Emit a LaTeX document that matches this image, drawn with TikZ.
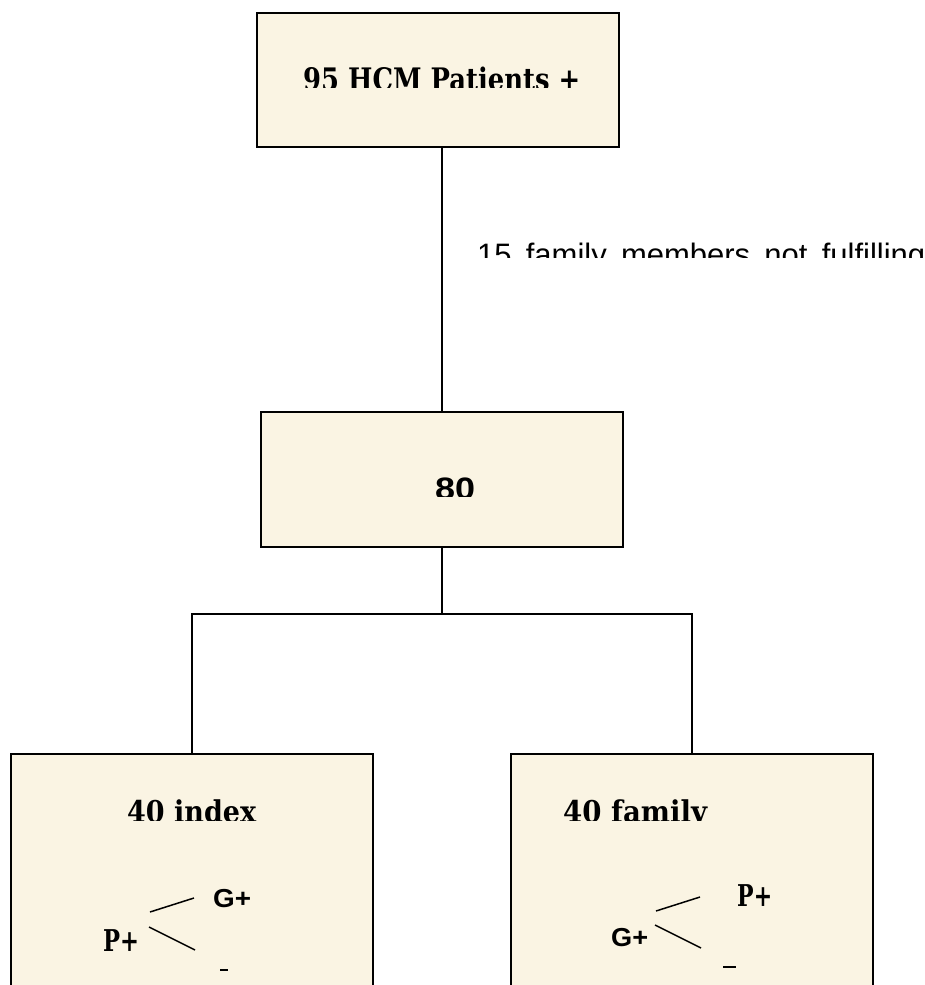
\documentclass[tikz,border=0pt]{standalone}
\usepackage{fontspec}
\newfontfamily\slabf{DejaVu Serif}
\newfontfamily\sansf{Liberation Sans}
\definecolor{cream}{RGB}{250,244,227}
\newcommand\fitt[2]{\resizebox{#1}{\height}{#2}}
\tikzset{
  box/.style={draw=black, fill=cream, line width=1.7pt, minimum width=362pt, inner sep=0pt},
  conn/.style={line width=1.5pt},
  lbl/.style={inner sep=0pt, anchor=base west},
  tickmark/.style={line width=2pt},
}
\begin{document}
\begin{tikzpicture}[x=1pt,y=-1pt]
\useasboundingbox (0,0) rectangle (925,985);
\clip (0,0) rectangle (925,985);
\fill[white] (0,0) rectangle (925,985);
% boxes
\node[box, minimum height=134pt] (top) at (438,80) {};
\node[box, minimum height=135pt] (mid) at (442,479.5) {};
\node[box, minimum height=300pt] (left) at (192,904) {};
\node[box, minimum height=300pt] (right) at (692,904) {};
\coordinate (split) at (442,614);
% connectors
\draw[conn] (top.south -| mid.north) -- (mid.north);
\draw[conn] (mid.south) -- (split);
\draw[conn] (left.north) |- (split) -| (right.north);
% clipped texts
\begin{scope}
  \clip (250,50) rectangle (630,87);
  \node[lbl] (t1) at (303,90) {\fitt{277pt}{\slabf\bfseries\fontsize{31}{31}\selectfont 95 HCM Patients +}};
\end{scope}
\begin{scope}
  \clip (400,460) rectangle (500,496);
  \node[lbl] (t2) at (435,499) {\fitt{40pt}{\sansf\bfseries\fontsize{31}{31}\selectfont 80}};
\end{scope}
\begin{scope}
  \clip (470,230) rectangle (925,257);
  \node[lbl] (t3) at (477,265) {\sansf\fontsize{31}{31}\selectfont\makebox[448pt][s]{15 family members not fulfilling}};
\end{scope}
\begin{scope}
  \clip (100,785) rectangle (300,820);
  \node[lbl] (t4) at (127,822) {\fitt{129pt}{\slabf\bfseries\fontsize{30}{30}\selectfont 40 index}};
\end{scope}
\begin{scope}
  \clip (540,785) rectangle (760,820);
  \node[lbl] (t5) at (563,822) {\fitt{144pt}{\slabf\bfseries\fontsize{30}{30}\selectfont 40 family}};
\end{scope}
% left sub-tree
\node[lbl] (lp) at (103,951) {\fitt{36pt}{\slabf\bfseries\fontsize{30}{30}\selectfont P+}};
\node[lbl] (lg) at (213,907) {\fitt{38pt}{\sansf\bfseries\fontsize{26}{26}\selectfont G+}};
\coordinate (la1) at (150,912);
\coordinate (la2) at (194,898);
\coordinate (lb1) at (149,927);
\coordinate (lb2) at (195,950);
\draw[conn] (la1) -- (la2);
\draw[conn] (lb1) -- (lb2);
\coordinate (lm1) at (220,970);
\coordinate (lm2) at (228,970);
\draw[tickmark] (lm1) -- (lm2);
% right sub-tree
\node[lbl] (rp) at (737,906) {\fitt{35pt}{\slabf\bfseries\fontsize{30}{30}\selectfont P+}};
\node[lbl] (rg) at (611,946) {\fitt{37pt}{\sansf\bfseries\fontsize{26}{26}\selectfont G+}};
\coordinate (ra1) at (656,911);
\coordinate (ra2) at (700,897);
\coordinate (rb1) at (655,925);
\coordinate (rb2) at (701,948);
\draw[conn] (ra1) -- (ra2);
\draw[conn] (rb1) -- (rb2);
\coordinate (rm1) at (723,967);
\coordinate (rm2) at (736,967);
\draw[tickmark] (rm1) -- (rm2);
\end{tikzpicture}
\end{document}
